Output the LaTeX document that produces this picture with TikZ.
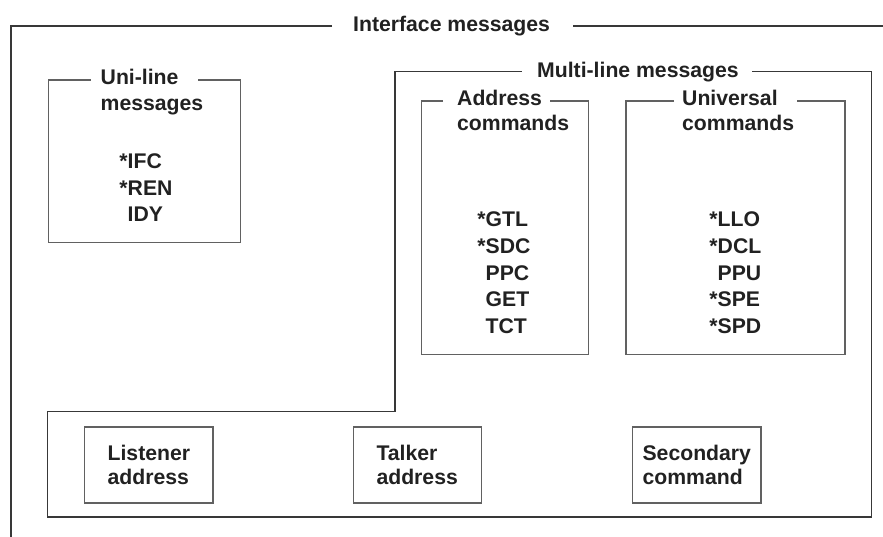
\documentclass[tikz,border=0pt]{standalone}
\usepackage{fontspec}
\setmainfont{Liberation Sans}
\begin{document}
\begin{tikzpicture}[x=1pt,y=-1pt,
  lbl/.style={inner sep=0pt, anchor=base west, font=\fontsize{21.2}{25.7}\selectfont\bfseries, text=black!87},
  frame/.style={draw=black!78, line width=1.1pt},
  inbox/.style={draw=black!62, line width=1.1pt},
  bbox/.style={draw=black!62, line width=1.1pt, minimum width=128.3pt, minimum height=76pt, inner sep=0pt, align=left, font=\fontsize{21.2}{24}\selectfont\bfseries, text=black!87}]
\useasboundingbox (0,0) rectangle (883,536);

% Interface messages frame
\draw[frame] (332,26) -- (11,26) -- (11,537);
\draw[frame] (573,26) -- (884,26);
\node[lbl] (ifm) at (353,31) {Interface messages};

% Multi-line messages frame
\draw[frame] (521.7,71.7) -- (395,71.7) -- (395,411.7) -- (47.3,411.7) -- (47.3,517) -- (871.7,517) -- (871.7,71.7) -- (751.7,71.7);
\node[lbl] (mlm) at (537,77.5) {Multi-line messages};

% Uni-line messages
\draw[inbox] (90.7,80) -- (48.3,80) -- (48.3,242.3) -- (240.7,242.3) -- (240.7,80) -- (198,80);
\node[lbl] (unia) at (100.5,84.3) {Uni-line};
\node[lbl] (unib) at (100.5,110) {messages};
\node[lbl] (ifc) at (127.5,168.3) {\llap{*}IFC};
\node[lbl] (ren) at (127.5,195) {\llap{*}REN};
\node[lbl] (idy) at (127.5,221.7) {IDY};

% Address commands
\draw[inbox] (443,101) -- (421.7,101) -- (421.7,354.3) -- (588.3,354.3) -- (588.3,101) -- (550,101);
\node[lbl] (adra) at (457,105) {Address};
\node[lbl] (adrb) at (457,130.7) {commands};
\node[lbl] (gtl) at (485.5,226.7) {\llap{*}GTL};
\node[lbl] (sdc) at (485.5,253.4) {\llap{*}SDC};
\node[lbl] (ppc) at (485.5,280) {PPC};
\node[lbl] (get) at (485.5,306.7) {GET};
\node[lbl] (tct) at (485.5,333.3) {TCT};

% Universal commands
\draw[inbox] (674,101) -- (626,101) -- (626,354.3) -- (845,354.3) -- (845,101) -- (797,101);
\node[lbl] (unva) at (682,105) {Universal};
\node[lbl] (unvb) at (682,130.7) {commands};
\node[lbl] (llo) at (717.5,226.7) {\llap{*}LLO};
\node[lbl] (dcl) at (717.5,253.4) {\llap{*}DCL};
\node[lbl] (ppu) at (717.5,280) {PPU};
\node[lbl] (spe) at (717.5,306.7) {\llap{*}SPE};
\node[lbl] (spd) at (717.5,333.3) {\llap{*}SPD};

% Bottom boxes
\node[bbox] (listener) at (148.85,465) {Listener\\address};
\node[bbox] (talker) at (417.2,465) {Talker\\address};
\node[bbox] (secondary) at (696.8,465) {Secondary\\command};
\end{tikzpicture}
\end{document}
